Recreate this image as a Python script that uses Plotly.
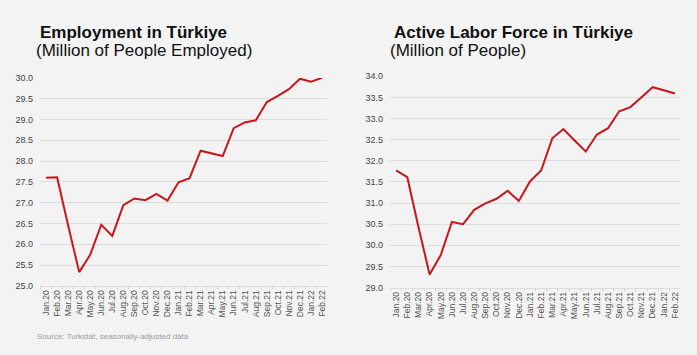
import plotly.graph_objects as go

months = ["Jan.20", "Feb.20", "Mar.20", "Apr.20", "May.20", "Jun.20", "Jul.20", "Aug.20",
          "Sep.20", "Oct.20", "Nov.20", "Dec.20", "Jan.21", "Feb.21", "Mar.21", "Apr.21",
          "May.21", "Jun.21", "Jul.21", "Aug.21", "Sep.21", "Oct.21", "Nov.21", "Dec.21",
          "Jan.22", "Feb.22"]

employment = [27.60, 27.61, 26.45, 25.33, 25.75, 26.47, 26.20, 26.94, 27.10, 27.06,
              27.21, 27.05, 27.49, 27.59, 28.25, 28.18, 28.12, 28.79, 28.93, 28.98,
              29.42, 29.57, 29.73, 29.98, 29.91, 30.00]

labor_force = [31.77, 31.61, 30.43, 29.31, 29.77, 30.55, 30.50, 30.84, 30.99, 31.10,
               31.29, 31.05, 31.51, 31.77, 32.53, 32.75, 32.48, 32.22, 32.62, 32.77,
               33.17, 33.27, 33.50, 33.74, 33.67, 33.59]

left_ticks = [25.0, 25.5, 26.0, 26.5, 27.0, 27.5, 28.0, 28.5, 29.0, 29.5, 30.0]
right_ticks = [29.0, 29.5, 30.0, 30.5, 31.0, 31.5, 32.0, 32.5, 33.0, 33.5, 34.0]

W, H = 697, 355
RED = "#c8161d"
FONT = "Liberation Sans, Arial, sans-serif"

fig = go.Figure()
fig.add_trace(go.Scatter(x=months, y=employment, mode="lines",
                         line=dict(color=RED, width=2), xaxis="x", yaxis="y",
                         hoverinfo="skip", showlegend=False))
fig.add_trace(go.Scatter(x=months, y=labor_force, mode="lines",
                         line=dict(color=RED, width=2), xaxis="x2", yaxis="y2",
                         hoverinfo="skip", showlegend=False))

xcommon = dict(type="category", tickangle=-90, showgrid=False, zeroline=False,
               showline=True, linecolor="#dcdcdc", linewidth=1,
               ticks="outside", ticklen=2, tickcolor="#d0d0d0", tickson="boundaries",
               tickfont=dict(family=FONT, size=8.5, color="#555"),
               range=[-0.55, 25.45])
ycommon = dict(showgrid=True, gridcolor="#dcdcdc", gridwidth=1, zeroline=False,
               showline=False, ticks="", tickfont=dict(family=FONT, size=9, color="#444"),
               ticklabelstandoff=6)

fig.update_layout(
    width=W, height=H,
    margin=dict(l=0, r=0, t=0, b=0),
    paper_bgcolor="#f3f3f3", plot_bgcolor="rgba(0,0,0,0)",
    xaxis=dict(xcommon, domain=[40 / W, 327 / W], anchor="y"),
    yaxis=dict(ycommon, domain=[1 - 289 / H, 1 - 75 / H], range=[25, 30],
               tickvals=left_ticks, ticktext=[f"{v:.1f}" for v in left_ticks], anchor="x"),
    xaxis2=dict(xcommon, domain=[390 / W, 680 / W], anchor="y2"),
    yaxis2=dict(ycommon, domain=[1 - 290.7 / H, 1 - 73.3 / H], range=[29, 34],
                tickvals=right_ticks, ticktext=[f"{v:.1f}" for v in right_ticks], anchor="x2"),
    annotations=[
        dict(text="<b>Employment in Türkiye</b>", x=38 / W, y=1 - 28 / H, xref="paper", yref="paper",
             xanchor="left", yanchor="middle", showarrow=False,
             font=dict(family=FONT, size=17, color="#111")),
        dict(text="(Million of People Employed)", x=34 / W, y=1 - 47 / H, xref="paper", yref="paper",
             xanchor="left", yanchor="middle", showarrow=False,
             font=dict(family=FONT, size=17, color="#111")),
        dict(text="<b>Active Labor Force in Türkiye</b>", x=392 / W, y=1 - 28 / H, xref="paper", yref="paper",
             xanchor="left", yanchor="middle", showarrow=False,
             font=dict(family=FONT, size=17, color="#111")),
        dict(text="(Million of People)", x=388 / W, y=1 - 47 / H, xref="paper", yref="paper",
             xanchor="left", yanchor="middle", showarrow=False,
             font=dict(family=FONT, size=17, color="#111")),
        dict(text="Source: Turkstat, seasonally-adjusted data", x=35 / W, y=1 - 341 / H,
             xref="paper", yref="paper", xanchor="left", yanchor="middle", showarrow=False,
             font=dict(family=FONT, size=8, color="#999")),
    ],
)

css_js = (
    "var s=document.createElement('style');"
    "s.textContent='html,body{margin:0;padding:0;overflow:hidden;width:697px;height:355px;}"
    ".plotly-graph-div{display:block;}';"
    "document.head.appendChild(s);"
)

fig.write_html("out.html", config={"displayModeBar": False}, post_script=css_js)
